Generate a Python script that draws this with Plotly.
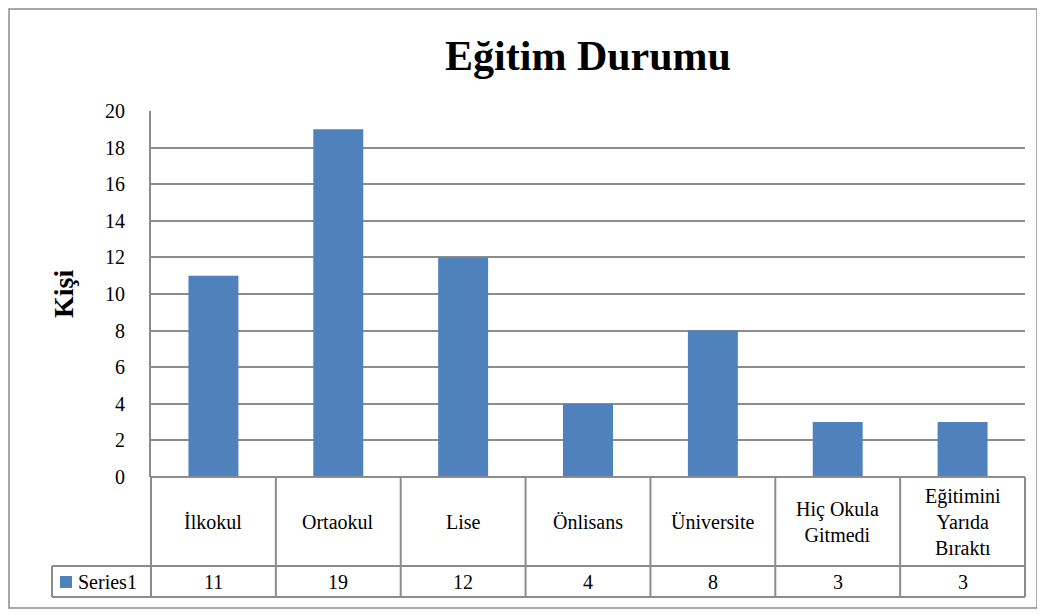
import plotly.graph_objects as go

categories = ["İlkokul", "Ortaokul", "Lise", "Önlisans", "Üniversite", "Hiç Okula Gitmedi", "Eğitimini Yarıda Bıraktı"]
labels = ["İlkokul", "Ortaokul", "Lise", "Önlisans", "Üniversite", "Hiç Okula<br>Gitmedi", "Eğitimini<br>Yarıda<br>Bıraktı"]
values = [11, 19, 12, 4, 8, 3, 3]
series_name = "Series1"
title = "Eğitim Durumu"
y_title = "Kişi"
y_ticks = [0, 2, 4, 6, 8, 10, 12, 14, 16, 18, 20]

BAR = "#4F81BD"
GRID = "#8C8C8C"
SERIF = "Liberation Serif, Times New Roman, serif"

OFF = 8  # page body margin
W, H = 1045, 616
# screen-pixel geometry of the plot area
SX0, SX1, SY0, SY1 = 151, 1025, 111, 477
L, T = SX0 - OFF, SY0 - OFF
R, B = W - (SX1 - OFF), H - (SY1 - OFF)
pw, ph = SX1 - SX0, SY1 - SY0

def px_x(x):
    return (x - SX0) / pw

def px_y(y):
    return (SY1 - y) / ph

fig = go.Figure()
fig.add_trace(go.Bar(x=categories, y=values, name=series_name, marker=dict(color=BAR, line=dict(width=0)),
                     width=0.4, showlegend=False))

shapes = []
# outer chart border
shapes.append(dict(type="rect", xref="paper", yref="paper", x0=px_x(OFF + 1), x1=px_x(1037), y0=px_y(608), y1=px_y(OFF + 1),
                   line=dict(color="#8C8C8C", width=1.5), layer="below"))
# data table
y_top, y_mid, y_bot = 0, px_y(566), px_y(597)
n = len(categories)
for k in range(n + 1):
    shapes.append(dict(type="line", xref="paper", yref="paper", x0=k / n, x1=k / n, y0=y_bot, y1=y_top,
                       line=dict(color=GRID, width=2)))
shapes.append(dict(type="line", xref="paper", yref="paper", x0=0, x1=1, y0=y_top, y1=y_top, line=dict(color=GRID, width=2)))
shapes.append(dict(type="line", xref="paper", yref="paper", x0=px_x(52), x1=1, y0=y_mid, y1=y_mid, line=dict(color=GRID, width=2)))
shapes.append(dict(type="line", xref="paper", yref="paper", x0=px_x(52), x1=1, y0=y_bot, y1=y_bot, line=dict(color=GRID, width=2)))
shapes.append(dict(type="line", xref="paper", yref="paper", x0=px_x(52), x1=px_x(52), y0=y_bot, y1=y_mid, line=dict(color=GRID, width=2)))
# legend key
shapes.append(dict(type="rect", xref="paper", yref="paper", x0=px_x(60), x1=px_x(72), y0=px_y(588), y1=px_y(576),
                   fillcolor=BAR, line=dict(width=0)))

annotations = []
for c, lab, v in zip(categories, labels, values):
    annotations.append(dict(x=c, xref="x", y=(y_top + y_mid) / 2, yref="paper", text=lab, showarrow=False,
                            font=dict(family=SERIF, size=20, color="#000"), xanchor="center", yanchor="middle"))
    annotations.append(dict(x=c, xref="x", y=(y_mid + y_bot) / 2, yref="paper", text=str(v), showarrow=False,
                            font=dict(family=SERIF, size=20, color="#000"), xanchor="center", yanchor="middle"))
annotations.append(dict(x=px_x(76), xref="paper", y=(y_mid + y_bot) / 2, yref="paper", text=series_name, showarrow=False,
                        font=dict(family=SERIF, size=20, color="#000"), xanchor="left", yanchor="middle"))
annotations.append(dict(x=px_x(63), xref="paper", y=0.5, yref="paper", text=y_title, showarrow=False, textangle=-90,
                        font=dict(family=SERIF, size=28, color="#000", weight="bold"), xanchor="center", yanchor="middle"))

fig.update_layout(
    width=W, height=H,
    margin=dict(l=L, r=R, t=T, b=B),
    paper_bgcolor="white", plot_bgcolor="white",
    font=dict(family=SERIF, color="#000"),
    title=dict(text=title, x=0.5, xref="paper", xanchor="center", y=1 - (55 - OFF) / H, yanchor="middle",
               font=dict(family=SERIF, size=42, color="#000", weight="bold")),
    xaxis=dict(showticklabels=False, showgrid=False, zeroline=False, showline=False, ticks="",
               range=[-0.5, n - 0.5]),
    yaxis=dict(range=[0, 20], tickvals=y_ticks, showgrid=True, gridcolor=GRID, gridwidth=2, zeroline=False,
               showline=True, linecolor=GRID, linewidth=2, ticks="", ticklabelstandoff=20,
               tickfont=dict(family=SERIF, size=20, color="#000")),
    shapes=shapes, annotations=annotations, bargap=0.6,
)

fig.write_html("out.html")
